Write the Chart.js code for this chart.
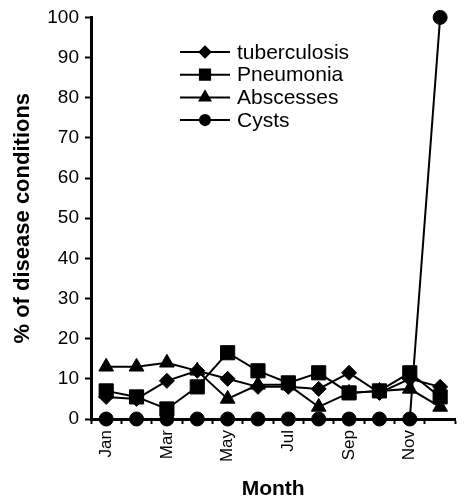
<!DOCTYPE html>
<html lang="en">
  <head>
    <meta charset="UTF-8" />
    <title>Disease conditions by month</title>
    <script src="https://cdn.jsdelivr.net/npm/chart.js"></script>
    <style>
      body {
        margin: 0;
        background: #fff;
      }
      .wrap {
        width: 467px;
        height: 502px;
      }
    </style>
  </head>
  <body>
    <div class="wrap"><canvas id="diseaseChart"></canvas></div>

    <script>
      // Monthly share of each condition (%)
      const months = ["Jan", "Feb", "Mar", "Apr", "May", "Jun", "Jul", "Aug", "Sep", "Oct", "Nov", "Dec"];
      const tuberculosis = [5.5, 5, 9.5, 12, 10, 8, 8, 7.5, 11.5, 6.5, 10, 8];
      const pneumonia = [7, 5.5, 2.5, 8, 16.5, 12, 9, 11.5, 6.5, 7, 11.5, 5.5];
      const abscesses = [13, 13, 14, 12, 5, 8.5, 8.5, 3, 6.5, 7, 7.5, 3];
      const cysts = [0, 0, 0, 0, 0, 0, 0, 0, 0, 0, 0, 100];
      const yTicks = [0, 10, 20, 30, 40, 50, 60, 70, 80, 90, 100];

      const FONT = "'Liberation Sans', Arial, sans-serif";

      function series(label, data, style, radius) {
        return {
          label: label,
          data: data,
          borderColor: "#000",
          backgroundColor: "#000",
          borderWidth: 2,
          pointStyle: style,
          pointRadius: radius,
          pointBorderWidth: 1,
          pointHoverRadius: radius,
          tension: 0,
          fill: false,
          clip: false,
        };
      }

      // legend drawn inside the plot, line through marker
      const innerLegend = {
        id: "innerLegend",
        afterDraw(chart) {
          const ctx = chart.ctx;
          ctx.save();
          chart.data.datasets.forEach((ds, i) => {
            const y = 52 + i * 22.7;
            ctx.strokeStyle = "#000";
            ctx.lineWidth = 2;
            ctx.beginPath();
            ctx.moveTo(180, y);
            ctx.lineTo(230, y);
            ctx.stroke();
            ctx.fillStyle = "#000";
            Chart.helpers.drawPoint(ctx, {
              pointStyle: ds.pointStyle,
              radius: ds.pointRadius * 0.72,
              borderWidth: 1,
              rotation: 0,
            }, 205, y);
            ctx.font = "21px " + FONT;
            ctx.textBaseline = "middle";
            ctx.textAlign = "left";
            ctx.fillText(ds.label, 237, y + 1);
          });
          ctx.restore();
        },
      };

      new Chart(document.getElementById("diseaseChart"), {
        type: "line",
        data: {
          labels: months,
          datasets: [
            series("tuberculosis", tuberculosis, "rectRot", 7.5),
            series("Pneumonia", pneumonia, "rect", 10),
            series("Abscesses", abscesses, "triangle", 8.5),
            series("Cysts", cysts, "circle", 7),
          ],
        },
        options: {
          responsive: true,
          maintainAspectRatio: false,
          animation: false,
          layout: { padding: { top: 15, right: 2, left: 0, bottom: 0 } },
          plugins: {
            legend: { display: false },
            tooltip: { enabled: false },
          },
          scales: {
            x: {
              offset: true,
              afterFit(scale) {
                scale.height = 83;
              },
              border: { display: true, color: "#000", width: 3 },
              grid: {
                offset: true,
                drawOnChartArea: false,
                drawTicks: true,
                tickLength: 5,
                tickColor: "#000",
                tickWidth: 2,
              },
              ticks: {
                autoSkip: false,
                minRotation: 90,
                maxRotation: 90,
                padding: 6,
                color: "#000",
                font: { family: FONT, size: 17 },
                callback: function (value, index) {
                  return index % 2 === 0 ? months[index] : "";
                },
              },
              title: {
                display: true,
                text: "Month",
                color: "#000",
                font: { family: FONT, size: 21, weight: "bold" },
                padding: { top: 0, bottom: 0 },
              },
            },
            y: {
              min: 0,
              max: 100,
              afterFit(scale) {
                scale.width = 91;
              },
              afterBuildTicks(scale) {
                scale.ticks = yTicks.map((v) => ({ value: v }));
              },
              border: { display: true, color: "#000", width: 3 },
              grid: {
                drawOnChartArea: false,
                drawTicks: true,
                tickLength: 6,
                tickColor: "#000",
                tickWidth: 2,
              },
              ticks: {
                padding: 6,
                color: "#000",
                font: { family: FONT, size: 19 },
              },
              title: {
                display: true,
                text: "% of disease conditions",
                color: "#000",
                font: { family: FONT, size: 22, weight: "bold" },
                padding: { top: 10, bottom: 0 },
              },
            },
          },
        },
        plugins: [innerLegend],
      });
    </script>
  </body>
</html>
